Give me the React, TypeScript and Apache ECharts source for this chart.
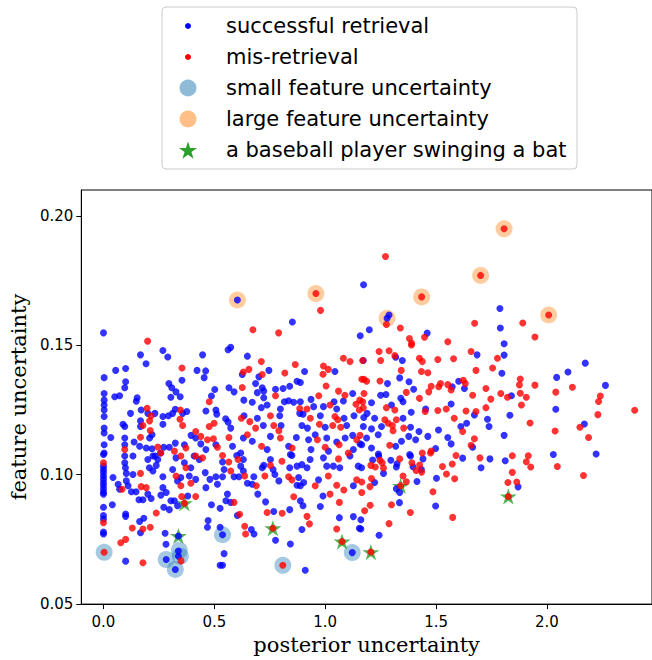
import React, { useEffect, useRef } from "react";
import * as echarts from "echarts";

const successfulRetrieval: [number, number][] = [
  [0.0,0.1548],[0.852,0.159],[1.173,0.1734],[1.158,0.1537],[1.199,0.156],[0.604,0.1675],[1.279,0.1604],[1.288,0.1617],[1.46,0.1547],[1.788,0.1642],[1.79,0.1567],[1.807,0.1506],[1.807,0.1462],[2.173,0.1431],[2.095,0.1397],[2.044,0.1376],[1.797,0.1392],[1.84,0.1305],[2.264,0.1345],[2.04,0.1253],[1.833,0.123],[2.169,0.1196],[1.807,0.1152],[2.029,0.1078],[2.222,0.108],[1.812,0.1054],[1.87,0.0953],
  [1.214,0.1057],[1.242,0.1072],[1.164,0.1027],[1.263,0.1005],[1.296,0.1056],[1.324,0.1042],[1.321,0.103],[1.385,0.1072],[1.396,0.1031],[1.434,0.102],[1.441,0.1061],[1.62,0.1064],[1.743,0.1061],[1.703,0.1027],[1.502,0.0986],[1.414,0.0974],[1.223,0.097],[1.321,0.0946],[1.336,0.0931],[1.335,0.0892],[1.498,0.0879],[1.161,0.0826],[1.161,0.079],[1.243,0.0766],
  [0.537,0.1049],[0.601,0.1074],[0.619,0.1033],[0.631,0.1059],[0.631,0.1014],[0.544,0.102],[0.589,0.0992],[0.611,0.0992],[0.649,0.0967],[0.671,0.0963],[0.696,0.0925],[0.716,0.1027],[0.678,0.0992],[0.723,0.1036],[0.753,0.1059],[0.765,0.102],[0.773,0.1001],[0.791,0.0976],[0.84,0.1027],[0.85,0.1074],[0.873,0.1033],[0.895,0.1039],[0.918,0.1027],[0.932,0.1059],[0.88,0.0989],[0.903,0.097],[0.888,0.0957],[0.873,0.0959],[0.97,0.098],[0.992,0.1065],[1.007,0.1033],[1.037,0.1033],[1.066,0.1027],[0.99,0.0918],[1.127,0.0957],[1.112,0.1072],[1.149,0.1033],[0.978,0.0877],[1.064,0.0834],[1.127,0.0838],[1.154,0.0793],[0.895,0.0788],[0.843,0.0732],[0.91,0.0631],[0.776,0.0747],[0.768,0.0858],[0.84,0.0865],[0.888,0.0899],[0.9,0.088],[0.574,0.0893],[0.604,0.0842],[0.559,0.0925],[0.552,0.0899],[0.731,0.0895],[0.667,0.0788],[0.679,0.0771],[0.544,0.0695],[0.537,0.065],[0.537,0.0768],[1.122,0.0699],
  [0.0,0.1078],[0.0,0.1033],[0.0,0.102],[0.0,0.1008],[0.0,0.0995],[0.0,0.0982],[0.0,0.0969],[0.0,0.0957],[0.0,0.0944],[0.0,0.0931],[0.0,0.0925],[0.0,0.0874],[0.0,0.0842],[0.0,0.0829],[0.0,0.0778],[0.0,0.0771],
  [0.043,0.0989],[0.04,0.0884],[0.066,0.0963],[0.073,0.0944],[0.096,0.1072],[0.096,0.1046],[0.099,0.1027],[0.103,0.1005],[0.103,0.0976],[0.111,0.0957],[0.126,0.0934],[0.147,0.0934],[0.133,0.1001],[0.2,0.0925],[0.215,0.0908],[0.16,0.0903],[0.178,0.0903],[0.1,0.0848],[0.1,0.0839],[0.2,0.1059],[0.207,0.1027],[0.223,0.1014],[0.238,0.1036],[0.223,0.1072],[0.245,0.1059],[0.268,0.0992],[0.268,0.095],[0.283,0.0931],[0.163,0.0819],[0.182,0.0832],[0.167,0.0776],[0.1,0.0666],[0.278,0.0774],[0.282,0.0731],[0.272,0.0874],[0.297,0.0865],[0.304,0.0899],[0.32,0.0899],[0.334,0.088],[0.38,0.0918],[0.349,0.0989],[0.387,0.0995],[0.416,0.0982],[0.432,0.1059],[0.459,0.1008],[0.462,0.095],[0.48,0.0982],[0.514,0.0963],[0.507,0.0992],[0.537,0.0992],[0.487,0.0884],[0.526,0.087],[0.472,0.0823],[0.469,0.0797],[0.526,0.0797],[0.526,0.065],[0.327,0.1065],[0.312,0.102],[0.334,0.0976],[0.365,0.1046],[0.394,0.1027],[0.259,0.0921],
  [0.338,0.0763],[0.338,0.0705],[0.338,0.0685],[0.283,0.0672],[0.324,0.0634],
  [0.167,0.1463],[0.268,0.148],[0.29,0.1455],[0.192,0.1429],[0.447,0.1463],[0.055,0.1403],[0.1,0.141],[0.422,0.1403],[0.461,0.1401],[0.454,0.1375],[0.003,0.1375],[0.1,0.1359],[0.096,0.1336],[0.295,0.1352],[0.308,0.1336],[0.327,0.132],[0.354,0.1365],[0.502,0.1329],[0.003,0.1314],[0.003,0.1288],[0.003,0.1269],[0.003,0.125],[0.003,0.1225],[0.003,0.118],[0.003,0.1161],[0.003,0.1116],[0.003,0.1084],[0.051,0.1301],[0.073,0.1305],[0.148,0.1284],[0.152,0.1297],[0.304,0.1299],[0.346,0.1301],[0.487,0.1304],[0.507,0.125],[0.511,0.1234],[0.122,0.1237],[0.17,0.125],[0.2,0.1237],[0.232,0.1237],[0.268,0.1225],[0.293,0.1228],[0.312,0.1237],[0.324,0.1253],[0.357,0.1237],[0.376,0.1244],[0.167,0.1208],[0.268,0.1195],[0.096,0.1186],[0.088,0.1195],[0.219,0.1154],[0.208,0.1142],[0.033,0.1144],[0.096,0.1142],[0.096,0.1116],[0.138,0.1126],[0.163,0.111],[0.193,0.1103],[0.219,0.11],[0.272,0.1106],[0.297,0.1106],[0.324,0.1122],[0.365,0.1116],[0.395,0.1152],[0.416,0.1142],[0.439,0.1119],[0.507,0.1116],[0.462,0.1097],[0.462,0.1246],[0.233,0.1072],[0.257,0.1084],[0.133,0.1072],[0.409,0.1072],[0.167,0.1186],
  [0.574,0.1492],[0.562,0.1483],[0.649,0.1458],[0.626,0.1387],[0.746,0.1403],[0.701,0.1378],[0.907,0.1399],[1.044,0.1399],[0.873,0.1361],[0.888,0.1356],[0.84,0.1342],[0.566,0.1336],[0.589,0.132],[0.686,0.1352],[0.694,0.1317],[0.716,0.1336],[0.723,0.1323],[0.776,0.133],[0.81,0.1333],[1.124,0.1314],[0.633,0.1288],[0.671,0.128],[0.723,0.1297],[0.712,0.1259],[0.738,0.1269],[0.816,0.1282],[0.835,0.1286],[0.858,0.128],[0.888,0.1282],[0.936,0.1291],[0.992,0.1263],[1.04,0.1282],[1.052,0.1254],[1.082,0.1285],[0.948,0.1263],[0.798,0.1254],[0.795,0.1228],[0.885,0.1237],[0.9,0.1234],[0.978,0.1228],[1.085,0.1218],[1.13,0.1228],[0.551,0.1216],[0.562,0.1203],[0.574,0.118],[0.634,0.1228],[0.694,0.1218],[0.721,0.119],[0.801,0.119],[0.895,0.119],[0.92,0.118],[1.0,0.1183],[1.097,0.119],[1.124,0.1152],[0.582,0.111],[0.631,0.1142],[0.671,0.1129],[0.753,0.1148],[0.835,0.111],[0.87,0.1144],[0.925,0.1135],[0.955,0.1154],[1.007,0.1142],[1.052,0.1126],[1.09,0.1142],[1.157,0.1119],[0.619,0.1084],[0.738,0.1097],[0.843,0.1078],[0.936,0.1097],[1.015,0.1091],[1.127,0.1097],
  [1.318,0.1454],[1.348,0.1441],[1.685,0.1463],[1.172,0.1441],[1.336,0.1374],[1.281,0.1352],[1.378,0.1359],[1.399,0.133],[1.602,0.1361],[1.628,0.1333],[1.573,0.134],[1.209,0.1278],[1.25,0.1307],[1.274,0.131],[1.189,0.1237],[1.299,0.1269],[1.341,0.1295],[1.351,0.1282],[1.388,0.1241],[1.453,0.1254],[1.568,0.1273],[1.673,0.1231],[1.732,0.1214],[1.739,0.1186],[1.174,0.1221],[1.223,0.1218],[1.351,0.1218],[1.385,0.1183],[1.254,0.1186],[1.209,0.1177],[1.172,0.1186],[1.239,0.1154],[1.187,0.1142],[1.165,0.1116],[1.209,0.1103],[1.318,0.111],[1.344,0.1129],[1.377,0.1148],[1.408,0.1135],[1.423,0.1167],[1.463,0.1148],[1.511,0.1173],[1.553,0.1144],[1.498,0.1101],[1.568,0.1119],[1.612,0.1186],[1.638,0.1199],[1.665,0.1106],[1.24,0.108],[1.381,0.1078]
];

const misRetrieval: [number, number][] = [
  [0.199,0.1516],[0.674,0.156],[0.79,0.1548],[0.979,0.1635],[0.958,0.170],[1.272,0.1843],[1.339,0.1567],[1.38,0.1526],[1.448,0.1531],[1.39,0.1508],[1.553,0.1514],[1.674,0.1585],[1.891,0.1586],[1.946,0.1532],[1.807,0.195],[1.701,0.177],[1.435,0.1687],[1.276,0.158],[2.008,0.1617],
  [1.88,0.137],[1.876,0.1347],[1.946,0.1346],[1.792,0.1314],[1.88,0.1315],[1.822,0.1299],[1.907,0.1299],[1.885,0.1269],[2.04,0.1319],[2.115,0.1338],[2.241,0.1304],[2.233,0.1283],[2.396,0.1249],[2.23,0.1232],[1.924,0.12],[2.149,0.1183],[2.037,0.1169],[2.188,0.1144],[1.844,0.1073],[1.916,0.1073],
  [1.907,0.105],[1.927,0.103],[2.047,0.1032],[2.165,0.0997],[1.844,0.1009],[1.824,0.097],[1.864,0.0972],[1.826,0.0916],
  [1.247,0.1056],[1.257,0.1046],[1.206,0.1036],[1.226,0.103],[1.263,0.1026],[1.336,0.1061],[1.391,0.1046],[1.41,0.1016],[1.426,0.1037],[1.435,0.101],[1.475,0.1084],[1.59,0.1074],[1.698,0.1065],[1.529,0.1032],[1.573,0.1041],[1.547,0.1003],[1.584,0.0984],[1.209,0.0985],[1.202,0.0954],[1.165,0.0972],[1.165,0.0931],[1.351,0.0995],[1.34,0.0957],[1.366,0.0973],[1.486,0.0934],[1.299,0.0884],[1.203,0.0882],[1.178,0.0861],[1.384,0.0854],[1.575,0.0835],[1.288,0.0811],[1.206,0.0701],
  [0.537,0.1074],[0.565,0.1049],[0.607,0.1059],[0.574,0.1014],[0.637,0.0995],[0.689,0.0957],[0.728,0.0995],[0.753,0.1036],[0.805,0.1052],[0.835,0.0992],[0.85,0.098],[0.955,0.0957],[1.014,0.0995],[1.06,0.1061],[1.052,0.0959],[1.022,0.0925],[1.084,0.0941],[1.142,0.098],[1.064,0.0893],[1.052,0.079],[0.918,0.0839],[0.929,0.081],[0.738,0.0854],[0.806,0.0851],[0.858,0.0915],[0.589,0.0893],[0.614,0.0847],[0.637,0.0801],[0.641,0.0771],[0.764,0.0793],[1.076,0.0742],[0.809,0.065],
  [0.0,0.1046],[0.0,0.0814],[0.084,0.0944],[0.167,0.1005],[0.17,0.0954],[0.193,0.095],[0.259,0.1084],[0.238,0.0852],[0.178,0.079],[0.211,0.0797],[0.13,0.0794],[0.1,0.075],[0.078,0.0737],[0.178,0.066],[0.353,0.0916],[0.416,0.0916],[0.349,0.0957],[0.372,0.1027],[0.394,0.0967],[0.416,0.1072],[0.447,0.1065],[0.349,0.1072],[0.327,0.0995],[0.35,0.0667],[0.365,0.089],[0.003,0.070],
  [0.354,0.1412],[0.477,0.1282],[0.499,0.1199],[0.477,0.1186],[0.197,0.1257],[0.215,0.1228],[0.347,0.125],[0.345,0.1214],[0.178,0.119],[0.208,0.1208],[0.211,0.1171],[0.167,0.1145],[0.357,0.119],[0.096,0.1097],[0.245,0.1107],[0.32,0.1091],[0.372,0.1103],[0.416,0.1167],[0.439,0.1148],[0.469,0.1135],[0.496,0.1139],[0.514,0.1106],
  [0.712,0.1437],[0.865,0.1426],[1.082,0.145],[1.112,0.1437],[1.169,0.1441],[0.631,0.1397],[0.656,0.1407],[0.716,0.1387],[0.818,0.1393],[0.992,0.142],[1.014,0.1407],[0.99,0.1388],[1.004,0.1343],[1.165,0.1369],[0.626,0.1337],[0.776,0.1305],[1.06,0.1323],[1.089,0.1307],[1.139,0.1272],[1.169,0.1282],[0.885,0.1256],[0.971,0.1305],[1.022,0.1269],[0.918,0.1254],[0.753,0.1228],[0.933,0.1218],[1.044,0.1225],[1.057,0.1212],[1.154,0.125],[0.622,0.1218],[0.66,0.1205],[0.686,0.118],[0.768,0.119],[0.791,0.117],[0.974,0.1195],[1.034,0.119],[1.07,0.1183],[1.157,0.1152],[0.566,0.1144],[0.649,0.1154],[0.713,0.111],[0.798,0.1142],[0.851,0.1103],[0.965,0.1135],[1.0,0.1106],[1.063,0.1116],[1.142,0.1135],[1.104,0.1084],
  [1.389,0.1501],[1.243,0.1476],[1.288,0.1479],[1.314,0.146],[1.25,0.1441],[1.425,0.145],[1.438,0.1437],[1.508,0.1445],[1.579,0.1448],[1.658,0.1476],[1.777,0.145],[1.343,0.1403],[1.434,0.1399],[1.463,0.1394],[1.68,0.1403],[1.755,0.1412],[1.175,0.1369],[1.187,0.1361],[1.247,0.1362],[1.366,0.1318],[1.478,0.1342],[1.512,0.134],[1.52,0.1352],[1.553,0.1348],[1.623,0.1365],[1.632,0.1352],[1.568,0.1327],[1.467,0.132],[1.665,0.1307],[1.725,0.1333],[1.747,0.1292],[1.175,0.1314],[1.156,0.1288],[1.172,0.1259],[1.276,0.1259],[1.314,0.125],[1.425,0.1295],[1.451,0.1244],[1.508,0.1248],[1.546,0.1254],[1.582,0.1218],[1.635,0.1246],[1.68,0.1244],[1.269,0.1212],[1.284,0.1199],[1.303,0.119],[1.321,0.1212],[1.354,0.118],[1.306,0.117],[1.291,0.1114],[1.478,0.1091],[1.62,0.1167],[1.673,0.1139],[1.658,0.1114],[1.438,0.1084],[1.725,0.1259]
];

const smallFeatureUncertainty: [number, number][] = [
  [0.003,0.070],[0.283,0.0672],[0.342,0.0708],[0.347,0.0685],[0.324,0.0634],[0.537,0.0768],[0.809,0.065],[1.122,0.0699]
];

const largeFeatureUncertainty: [number, number][] = [
  [0.604,0.1675],[0.958,0.170],[1.807,0.195],[1.701,0.177],[1.435,0.1687],[1.279,0.1604],[2.008,0.1617]
];

const baseballPlayer: [number, number][] = [
  [0.365,0.089],[0.338,0.0763],[0.764,0.0793],[1.076,0.0742],[1.206,0.0701],[1.34,0.0957],[1.826,0.0916]
];

const xTicks = [0, 0.5, 1.0, 1.5, 2.0];
const yTicks = [0.05, 0.10, 0.15, 0.20];
const legendLabels = [
  "successful retrieval",
  "mis-retrieval",
  "small feature uncertainty",
  "large feature uncertainty",
  "a baseball player swinging a bat",
];

const STAR_PATH =
  "path://M0,-10L2.245,-3.09L9.511,-3.09L3.633,1.18L5.878,8.09L0,3.82L-5.878,8.09L-3.633,1.18L-9.511,-3.09L-2.245,-3.09Z";

function starPoints(cx: number, cy: number, R: number) {
  const pts: number[][] = [];
  const r = R * 0.382;
  for (let i = 0; i < 10; i++) {
    const a = -Math.PI / 2 + (i * Math.PI) / 5;
    const rad = i % 2 === 0 ? R : r;
    pts.push([cx + rad * Math.cos(a), cy + rad * Math.sin(a)]);
  }
  return pts;
}

export default function App() {
  const ref = useRef<HTMLDivElement>(null);
  useEffect(() => {
    if (!ref.current) return;
    const chart = echarts.init(ref.current, null, { renderer: "svg" });
    const sans = "DejaVu Sans";
    const serif = "DejaVu Serif";
    const lx = 188;
    const tx = 226;
    const rowY = [26, 57, 88, 119, 150];
    const legendColors = ["#0000ff", "#ff0000", "rgba(31,119,180,0.5)", "rgba(255,127,14,0.5)"];
    const legendRadius = [3, 3, 8.5, 8.5];
    const graphic: any[] = [
      {
        type: "rect",
        shape: { x: 162, y: 7, width: 415, height: 162, r: 4 },
        style: { fill: "rgba(255,255,255,0.8)", stroke: "#cccccc", lineWidth: 1 },
        z: 100,
      },
    ];
    legendLabels.forEach((label, i) => {
      if (i < 4) {
        graphic.push({
          type: "circle",
          shape: { cx: lx, cy: rowY[i], r: legendRadius[i] },
          style: { fill: legendColors[i] },
          z: 101,
        });
      } else {
        graphic.push({
          type: "polygon",
          shape: { points: starPoints(lx, rowY[i] + 1, 9.5) },
          style: { fill: "#2ca02c" },
          z: 101,
        });
      }
      graphic.push({
        type: "text",
        x: tx,
        y: rowY[i],
        style: {
          text: label,
          fontFamily: sans,
          fontSize: 21,
          fill: "#000",
          textVerticalAlign: "middle",
          verticalAlign: "middle",
        },
        z: 101,
      });
    });

    const axisFont = { fontFamily: sans, fontSize: 15, color: "#000" };
    const nameFont = { fontFamily: serif, fontSize: 21, color: "#000" };

    chart.setOption({
      animation: false,
      grid: {
        left: 78,
        top: 190,
        width: 574,
        height: 418,
        show: true,
        borderColor: "#000",
        borderWidth: 1,
        backgroundColor: "transparent",
      },
      xAxis: {
        type: "value",
        min: -0.1,
        max: 2.474,
        splitLine: { show: false },
        axisLine: { show: true, onZero: false, lineStyle: { color: "#000", width: 1 } },
        axisTick: { show: true, inside: false, length: 5, customValues: xTicks, lineStyle: { color: "#000" } },
        axisLabel: {
          ...axisFont,
          margin: 10,
          customValues: xTicks,
          formatter: (v: number) => v.toFixed(1),
        },
        name: "posterior uncertainty",
        nameLocation: "middle",
        nameGap: 27,
        nameTextStyle: nameFont,
      },
      yAxis: {
        type: "value",
        min: 0.05,
        max: 0.21,
        splitLine: { show: false },
        axisLine: { show: true, onZero: false, lineStyle: { color: "#000", width: 1 } },
        axisTick: { show: true, inside: false, length: 5, customValues: yTicks, lineStyle: { color: "#000" } },
        axisLabel: {
          ...axisFont,
          margin: 8,
          customValues: yTicks,
          formatter: (v: number) => v.toFixed(2),
        },
        name: "feature uncertainty",
        nameLocation: "middle",
        nameGap: 50,
        nameTextStyle: nameFont,
      },
      series: [
        {
          type: "scatter",
          name: "small feature uncertainty",
          data: smallFeatureUncertainty,
          symbol: "circle",
          symbolSize: 17,
          itemStyle: { color: "rgba(31,119,180,0.5)" },
          z: 1,
          silent: true,
        },
        {
          type: "scatter",
          name: "large feature uncertainty",
          data: largeFeatureUncertainty,
          symbol: "circle",
          symbolSize: 17,
          itemStyle: { color: "rgba(255,127,14,0.5)" },
          z: 1,
          silent: true,
        },
        {
          type: "scatter",
          name: "a baseball player swinging a bat",
          data: baseballPlayer,
          symbol: STAR_PATH,
          symbolKeepAspect: true,
          symbolSize: 17,
          itemStyle: { color: "#2ca02c" },
          z: 2,
          silent: true,
        },
        {
          type: "scatter",
          name: "successful retrieval",
          data: successfulRetrieval,
          symbol: "circle",
          symbolSize: 7,
          itemStyle: { color: "#0000ff" },
          z: 3,
          silent: true,
        },
        {
          type: "scatter",
          name: "mis-retrieval",
          data: misRetrieval,
          symbol: "circle",
          symbolSize: 7,
          itemStyle: { color: "#ff0000" },
          z: 4,
          silent: true,
        },
      ],
      graphic,
    });
    return () => chart.dispose();
  }, []);
  return (
    <div
      ref={ref}
      style={{ position: "absolute", left: 0, top: 0, width: 652, height: 660 }}
    />
  );
}
